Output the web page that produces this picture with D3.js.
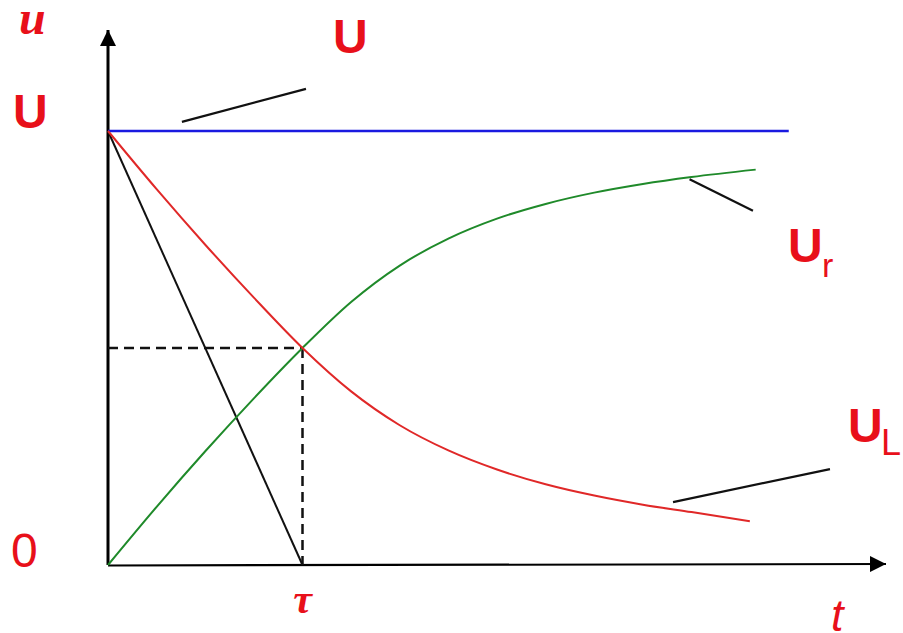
<!DOCTYPE html>
<html><head><meta charset="utf-8">
<script src="https://cdn.jsdelivr.net/npm/d3@7"></script>
<style>body{margin:0;background:#fff}</style>
</head><body><svg id="c" width="903" height="633"></svg>
<script>
// time in units of tau, voltage as fraction of U
const timeRed   = [0,0.25,0.5,0.75,1.0,1.25,1.5,1.75,2.0,2.25,2.5,2.75,3.0,3.3];
const uL        = [1.0,0.866,0.738,0.616,0.500,0.400,0.322,0.264,0.220,0.186,0.160,0.139,0.122,0.101];
const timeGreen = [0,0.25,0.5,0.75,1.0,1.25,1.5,1.75,2.0,2.25,2.5,2.75,3.0,3.33];
const uR        = [0,0.134,0.262,0.384,0.500,0.606,0.690,0.752,0.798,0.832,0.858,0.878,0.894,0.911];
const sourceT   = [0,3.50];
const sourceU   = [1,1];
const tangentT  = [0,1];
const tangentU  = [1,0];
const tau = 1, halfU = 0.5;
const yTickLabels = ["0","U"];
const xTickLabel = "τ";
// leader lines in data coords [t1,u1,t2,u2]
const leaderU  = [0.38,1.021,1.018,1.097];
const leaderUr = [2.99,0.889,3.316,0.816];
const leaderUL = [2.905,0.145,3.712,0.221];

const svg = d3.select("#c");
const x = d3.scaleLinear().domain([0,4]).range([108,886]);
const y = d3.scaleLinear().domain([0,1]).range([565,131]);
const RED = "#e8101a";

const defs = svg.append("defs");
defs.append("marker").attr("id","arr").attr("viewBox","0 0 10 10").attr("refX",10).attr("refY",5)
  .attr("markerWidth",16).attr("markerHeight",16).attr("markerUnits","userSpaceOnUse").attr("orient","auto")
  .append("path").attr("d","M0,0 L10,5 L0,10 Z").attr("fill","#000");

// axes
svg.append("line").attr("x1",x(0)).attr("y1",y(0)).attr("x2",x(0)).attr("y2",y(1.233))
  .attr("stroke","#000").attr("stroke-width",3).attr("marker-end","url(#arr)");
svg.append("line").attr("x1",x(0)).attr("y1",y(0)+0.5).attr("x2",x(4.0)).attr("y2",y(0)-1)
  .attr("stroke","#000").attr("stroke-width",2.2).attr("marker-end","url(#arr)");

const line = d3.line().x(d=>x(d[0])).y(d=>y(d[1]));
const smooth = d3.line().x(d=>x(d[0])).y(d=>y(d[1])).curve(d3.curveMonotoneX);

// dashed guides
svg.append("path").attr("d", line([[0,halfU],[tau,halfU]])).attr("stroke","#111").attr("stroke-width",2.5)
  .attr("stroke-dasharray","10,6").attr("fill","none");
svg.append("path").attr("d", line([[tau,halfU],[tau,0]])).attr("stroke","#111").attr("stroke-width",2.5)
  .attr("stroke-dasharray","10,6").attr("fill","none");

// tangent
svg.append("path").attr("d", line(tangentT.map((t,i)=>[t,tangentU[i]]))).attr("stroke","#111")
  .attr("stroke-width",2).attr("fill","none");
// source
svg.append("path").attr("d", line(sourceT.map((t,i)=>[t,sourceU[i]]))).attr("stroke","#1a1ae0")
  .attr("stroke-width",2.4).attr("fill","none");
// uR green
svg.append("path").attr("d", smooth(timeGreen.map((t,i)=>[t,uR[i]]))).attr("stroke","#1f8a2a")
  .attr("stroke-width",2).attr("fill","none");
// uL red
svg.append("path").attr("d", smooth(timeRed.map((t,i)=>[t,uL[i]]))).attr("stroke","#e02828")
  .attr("stroke-width",2).attr("fill","none");

// leaders
[leaderU,leaderUr,leaderUL].forEach(l=>{
  svg.append("line").attr("x1",x(l[0])).attr("y1",y(l[1])).attr("x2",x(l[2])).attr("y2",y(l[3]))
    .attr("stroke","#111").attr("stroke-width",2.2);
});

// labels
const sans = "'Liberation Sans', Arial, sans-serif", serif = "'Liberation Serif', 'Times New Roman', serif";
function txt(s, px, py, size, fam, weight, style, anchor){
  return svg.append("text").attr("x",px).attr("y",py).attr("font-size",size).attr("font-family",fam)
    .attr("font-weight",weight||"normal").attr("font-style",style||"normal").attr("fill",RED)
    .attr("text-anchor",anchor||"start").text(s);
}
txt("u", 19, 34, 48, serif, "bold", "italic");
txt(yTickLabels[1], 13, y(1)-3, 48, sans, "bold");
txt(yTickLabels[0], 11, y(0)+2, 48, sans, "normal");
txt(xTickLabel, x(tau), 613, 42, serif, "bold", "italic", "middle");
txt("t", 831, 631, 45, sans, "normal", "italic");
txt("U", 333, 53, 48, sans, "bold");
txt("U", 788, 262, 48, sans, "bold");
txt("r", 822, 277, 34, sans, "normal");
txt("U", 848, 442, 48, sans, "bold");
txt("L", 881, 455, 36, sans, "normal");
</script></body></html>
